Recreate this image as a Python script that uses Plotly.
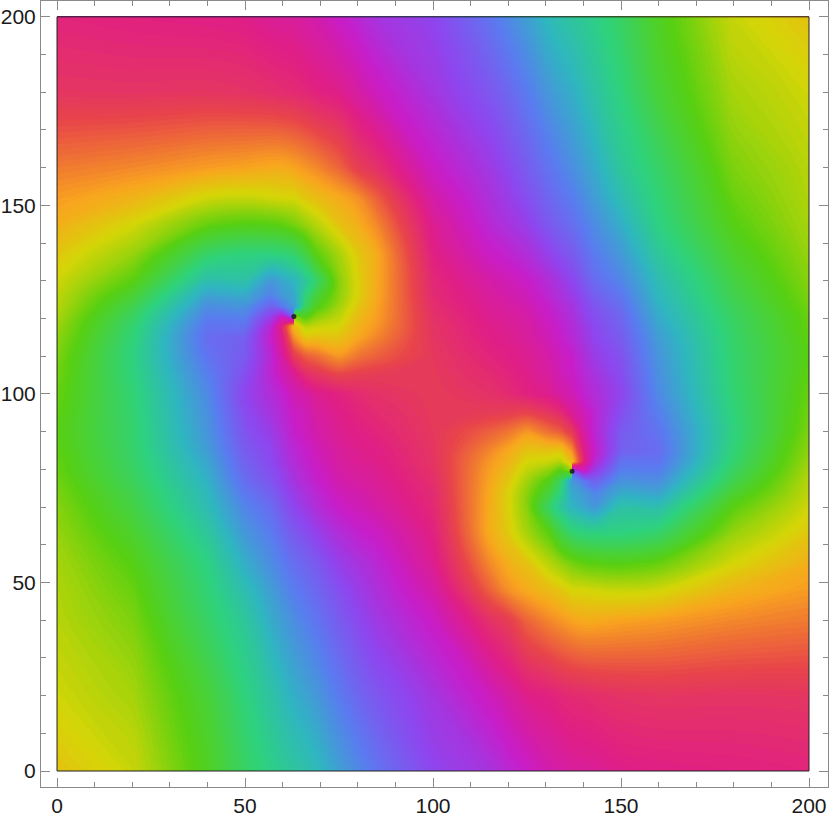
import numpy as np
import plotly.graph_objects as go

# grid rows, read top to bottom
rows = [200, 180, 160, 152, 145, 137, 130, 126, 123, 120.5, 118, 115, 110, 105, 100,
        95, 90, 85, 82, 79.5, 77, 74, 70, 63, 55, 48, 40, 20, 0]

# phase in degrees, unwrapped inside each panel
left_x = [0, 20, 40, 50, 57, 60, 63.03]
left_phase = [
    [695, 708, 740, 752, 760, 772, 782, 787, 790, 794, 798, 802, 808, 812, 815, 818, 820, 818, 816, 815, 812, 809, 805, 800, 795, 792, 790, 782, 770],
    [692, 707, 745, 762, 780, 800, 820, 836, 848, 856, 862, 866, 870, 868, 865, 863, 862, 860, 858, 856, 853, 848, 843, 833, 822, 815, 808, 795, 784],
    [690, 708, 752, 782, 815, 860, 895, 918, 932, 942, 950, 955, 950, 942, 935, 931, 927, 922, 916, 912, 908, 903, 898, 885, 872, 866, 859, 838, 828],
    [688, 706, 755, 785, 822, 870, 892, 915, 930, 942, 952, 965, 970, 978, 985, 980, 975, 968, 964, 960, 955, 948, 938, 925, 910, 897, 885, 869, 858],
    [682, 703, 758, 782, 820, 870, 925, 940, 965, 990, 1010, 1018, 1012, 1012, 1006, 1000, 992, 985, 982, 978, 974, 966, 957, 945, 933, 922, 912, 890, 875],
    [681, 701, 758, 780, 817, 868, 915, 925, 948, 1020, 1055, 1050, 1038, 1028, 1015, 1010, 1005, 998, 995, 990, 986, 980, 971, 958, 944, 933, 922, 900, 881],
    [680, 700, 755, 780, 810, 862, 905, 915, 925, 960, 1125, 1108, 1072, 1042, 1030, 1022, 1018, 1010, 1007, 1003, 1000, 993, 985, 970, 955, 944, 932, 910, 887],
]

middle_x = [63.03, 66, 69, 75, 80, 85, 100, 115, 120, 125, 131, 134, 136.96]
middle_phase = [
    [1040, 1060, 1115, 1140, 1170, 1222, 1265, 1275, 1285, 1160, 1125, 1108, 1072, 1042, 1030, 1022, 1018, 1010, 1007, 1003, 1000, 993, 985, 970, 955, 944, 932, 910, 887],
    [1036, 1057, 1110, 1132, 1160, 1205, 1245, 1230, 1215, 1185, 1150, 1130, 1088, 1060, 1035, 1028, 1025, 1018, 1015, 1011, 1008, 1002, 995, 978, 962, 952, 941, 917, 893],
    [1032, 1053, 1105, 1127, 1150, 1180, 1220, 1200, 1185, 1165, 1145, 1130, 1095, 1068, 1045, 1038, 1034, 1027, 1024, 1020, 1017, 1011, 1005, 988, 970, 960, 950, 925, 900],
    [1020, 1048, 1092, 1118, 1130, 1155, 1165, 1163, 1156, 1148, 1140, 1130, 1110, 1078, 1053, 1048, 1045, 1040, 1038, 1035, 1032, 1027, 1020, 1005, 990, 978, 968, 945, 920],
    [1010, 1037, 1075, 1108, 1120, 1133, 1137, 1137, 1132, 1127, 1122, 1117, 1098, 1075, 1060, 1055, 1050, 1046, 1044, 1041, 1038, 1033, 1028, 1015, 1000, 992, 982, 960, 935],
    [1000, 1025, 1065, 1090, 1105, 1118, 1118, 1117, 1115, 1113, 1110, 1104, 1090, 1073, 1065, 1060, 1055, 1050, 1048, 1045, 1043, 1040, 1035, 1022, 1010, 1003, 995, 972, 950],
    [985, 998, 1022, 1035, 1045, 1052, 1058, 1060, 1063, 1065, 1067, 1068, 1070, 1071, 1072, 1071, 1070, 1068, 1067, 1065, 1063, 1060, 1058, 1052, 1045, 1035, 1022, 998, 985],
    [950, 972, 995, 1003, 1010, 1022, 1035, 1040, 1043, 1045, 1048, 1050, 1055, 1060, 1065, 1073, 1090, 1104, 1110, 1113, 1115, 1117, 1118, 1118, 1105, 1090, 1065, 1025, 1000],
    [935, 960, 982, 992, 1000, 1015, 1028, 1033, 1038, 1041, 1044, 1046, 1050, 1055, 1060, 1075, 1098, 1117, 1122, 1127, 1132, 1137, 1137, 1133, 1120, 1108, 1075, 1037, 1010],
    [920, 945, 968, 978, 990, 1005, 1020, 1027, 1032, 1035, 1038, 1040, 1045, 1048, 1053, 1078, 1110, 1130, 1140, 1148, 1156, 1163, 1165, 1155, 1130, 1118, 1092, 1048, 1020],
    [900, 925, 950, 960, 970, 988, 1005, 1011, 1017, 1020, 1024, 1027, 1034, 1038, 1045, 1068, 1095, 1130, 1145, 1165, 1185, 1200, 1220, 1180, 1150, 1127, 1105, 1053, 1032],
    [893, 917, 941, 952, 962, 978, 995, 1002, 1008, 1011, 1015, 1018, 1025, 1028, 1035, 1060, 1088, 1130, 1150, 1185, 1215, 1230, 1245, 1205, 1160, 1132, 1110, 1057, 1036],
    [887, 910, 932, 944, 955, 970, 985, 993, 1000, 1003, 1007, 1010, 1018, 1022, 1030, 1042, 1072, 1108, 1125, 1160, 1285, 1275, 1265, 1222, 1170, 1140, 1115, 1060, 1040],
]

right_x = [136.96, 140, 143, 150, 160, 180, 200]
right_phase = [
    [887, 910, 932, 944, 955, 970, 985, 993, 1000, 1003, 1007, 1010, 1018, 1022, 1030, 1042, 1072, 1108, 1125, 960, 925, 915, 905, 862, 810, 780, 755, 700, 680],
    [881, 900, 922, 933, 944, 958, 971, 980, 986, 990, 995, 998, 1005, 1010, 1015, 1028, 1038, 1050, 1055, 1020, 948, 925, 915, 868, 817, 780, 758, 701, 681],
    [875, 890, 912, 922, 933, 945, 957, 966, 974, 978, 982, 985, 992, 1000, 1006, 1012, 1012, 1018, 1010, 990, 965, 940, 925, 870, 820, 782, 758, 703, 682],
    [858, 869, 885, 897, 910, 925, 938, 948, 955, 960, 964, 968, 975, 980, 985, 978, 970, 965, 952, 942, 930, 915, 892, 870, 822, 785, 755, 706, 688],
    [828, 838, 859, 866, 872, 885, 898, 903, 908, 912, 916, 922, 927, 931, 935, 942, 950, 955, 950, 942, 932, 918, 895, 860, 815, 782, 752, 708, 690],
    [784, 795, 808, 815, 822, 833, 843, 848, 853, 856, 858, 860, 862, 863, 865, 868, 870, 866, 862, 856, 848, 836, 820, 800, 780, 762, 745, 707, 692],
    [770, 782, 790, 792, 795, 800, 805, 809, 812, 815, 816, 818, 820, 818, 815, 812, 808, 802, 798, 794, 790, 787, 782, 772, 760, 752, 740, 708, 695],
]

# the two dark centres
core_x = [63, 137]
core_y = [120.5, 79.5]

# one turn of the colour wheel
wheel_deg = [0, 20, 35, 60, 100, 150, 185, 225, 265, 300, 330, 360]
wheel_color = ["#e8454a", "#f07a30", "#f9a51f", "#d6d507", "#58d011", "#2ed27e",
               "#2fb6c0", "#5a7bf0", "#8f45ee", "#c81dc8", "#e01e85", "#e8454a"]

tick_vals = [0, 50, 100, 150, 200]
zmin, zmax = 360, 1440


def build_colorscale():
    # wheel repeated over the whole unwrapped range
    scale = []
    for turn in range(3):
        for d, c in zip(wheel_deg, wheel_color):
            pos = (d + 360 * turn) / (zmax - zmin)
            if not scale or pos > scale[-1][0]:
                scale.append([pos, c])
    return scale


def add_panel(fig, xs, phase):
    z = np.array(phase).T[::-1]
    fig.add_trace(go.Contour(
        x=xs,
        y=rows[::-1],
        z=z.tolist(),
        colorscale=build_colorscale(),
        zauto=False,
        zmin=zmin,
        zmax=zmax,
        showscale=False,
        hoverinfo="skip",
        line_width=0,
        contours=dict(coloring="fill", showlines=False, start=zmin, end=zmax, size=2.5),
    ))


fig = go.Figure()
add_panel(fig, left_x, left_phase)
add_panel(fig, middle_x, middle_phase)
add_panel(fig, right_x, right_phase)

fig.add_trace(go.Scatter(
    x=core_x, y=core_y, mode="markers",
    marker=dict(color="#1a1a1a", size=5, opacity=0.85),
    hoverinfo="skip", showlegend=False,
))

# thin dark box round the image
fig.add_shape(type="rect", x0=0, y0=0, x1=200, y1=200, line=dict(color="#222222", width=1))

axis_style = dict(
    tickvals=tick_vals,
    ticks="inside",
    ticklen=9,
    tickwidth=1,
    tickcolor="#8a8a8a",
    minor=dict(dtick=10, tick0=0, ticks="inside", ticklen=5, tickwidth=1, tickcolor="#8a8a8a"),
    showline=True,
    linecolor="#8a8a8a",
    linewidth=1,
    mirror="ticks",
    showgrid=False,
    zeroline=False,
    tickfont=dict(family="Liberation Sans", size=21, color="#1a1a1a"),
)

fig.update_layout(
    width=830,
    height=821,
    margin=dict(l=41, r=2, t=1, b=34),
    paper_bgcolor="white",
    plot_bgcolor="white",
    showlegend=False,
    xaxis=dict(range=[-4.26, 205.05], **axis_style),
    yaxis=dict(range=[-4.24, 204.2], **axis_style),
)

fig.write_html("out.html", post_script="document.body.style.margin='0';",
               config=dict(displayModeBar=False))
